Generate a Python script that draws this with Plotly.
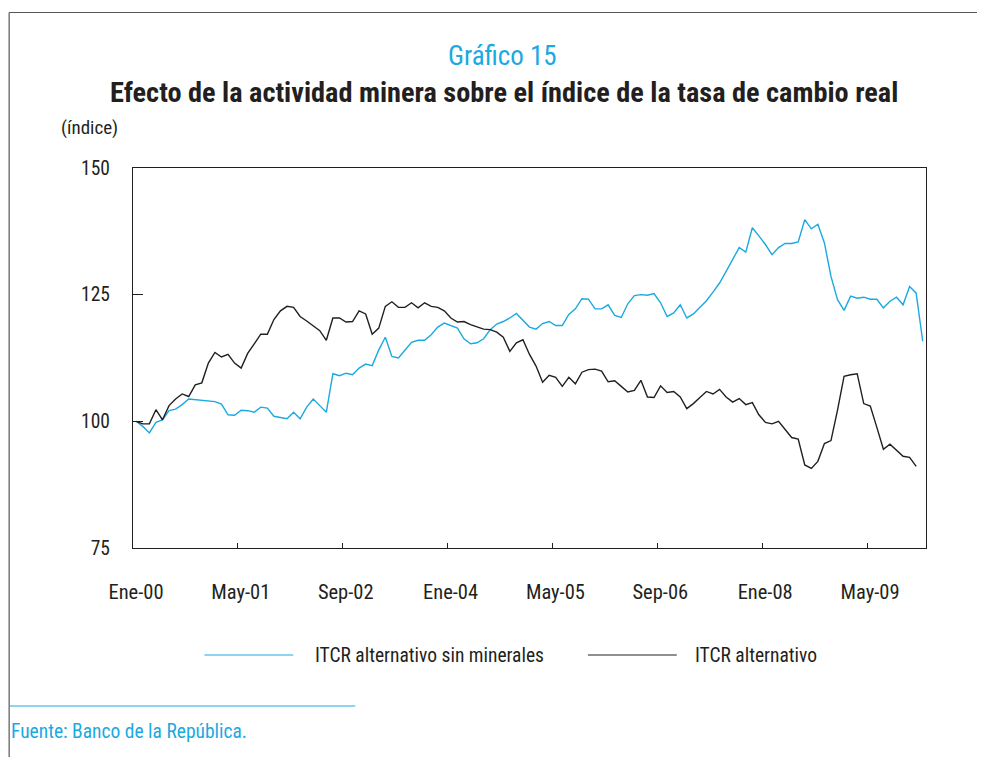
import plotly.graph_objects as go

# ---------------- data ----------------
months = list(range(121))  # Jan-2000 ... Jan-2010 (month index)
tick_labels = ["Ene-00", "May-01", "Sep-02", "Ene-04", "May-05", "Sep-06", "Ene-08", "May-09"]
tick_months = [0, 16, 32, 48, 64, 80, 96, 112]
y_ticks = [75, 100, 125, 150]

itcr_sin_minerales = [
    100.0, 99.0, 97.7, 99.8, 100.3, 102.1, 102.4, 103.3, 104.4, 104.3,
    104.1, 104.1, 103.9, 103.4, 101.3, 101.2, 102.2, 102.1, 101.8, 102.8,
    102.6, 101.0, 100.7, 100.5, 101.8, 100.5, 102.8, 104.4, 103.1, 101.8,
    109.4, 109.0, 109.5, 109.2, 110.5, 111.3, 111.0, 114.1, 116.6, 112.8,
    112.5, 114.1, 115.6, 116.0, 116.0, 117.1, 118.6, 119.4, 118.9, 118.4,
    116.3, 115.3, 115.5, 116.3, 118.1, 119.2, 119.7, 120.4, 121.3, 120.0,
    118.6, 118.2, 119.3, 119.7, 118.9, 118.9, 121.1, 122.2, 124.2, 124.1,
    122.2, 122.2, 123.0, 120.9, 120.5, 123.2, 124.8, 125.0, 124.9, 125.2,
    123.4, 120.7, 121.4, 123.0, 120.4, 121.2, 122.4, 123.8, 125.5, 127.3,
    129.6, 132.0, 134.3, 133.4, 138.2, 136.6, 134.9, 132.9, 134.3, 135.1,
    135.1, 135.4, 139.8, 138.0, 138.9, 135.2, 128.6, 124.0, 121.9, 124.7,
    124.3, 124.5, 124.1, 124.1, 122.4, 123.7, 124.5, 123.0, 126.6, 125.3,
    115.8,
]

itcr_alternativo = [
    100.0, 99.5, 99.5, 102.3, 100.3, 103.1, 104.4, 105.4, 104.9, 107.2,
    107.6, 111.5, 113.6, 112.7, 113.2, 111.5, 110.5, 113.4, 115.3, 117.2,
    117.2, 120.1, 121.8, 122.7, 122.5, 120.7, 119.8, 118.9, 117.9, 116.0,
    120.4, 120.4, 119.6, 119.7, 121.8, 121.2, 117.2, 118.4, 122.7, 123.6,
    122.5, 122.5, 123.4, 122.4, 123.4, 122.7, 122.5, 121.8, 120.4, 119.6,
    119.7, 119.1, 118.6, 118.2, 118.1, 117.6, 116.6, 113.8, 115.5, 116.1,
    113.2, 110.9, 107.7, 109.1, 108.7, 106.9, 108.7, 107.4, 109.7, 110.2,
    110.3, 109.9, 107.8, 108.0, 106.9, 105.8, 106.1, 108.1, 104.8, 104.7,
    107.0, 105.7, 105.9, 104.8, 102.5, 103.5, 104.7, 105.9, 105.4, 106.3,
    104.8, 103.8, 104.5, 103.3, 103.7, 101.3, 99.8, 99.5, 100.0, 98.5,
    96.8, 96.5, 91.4, 90.7, 92.1, 95.6, 96.2, 102.2, 108.9, 109.2,
    109.4, 103.5, 103.0, 98.8, 94.5, 95.5, 94.2, 93.1, 92.9, 91.1,
]

CYAN = "#1BA9E1"
BLACK = "#231F20"
FONT = "Liberation Sans Narrow, Arial Narrow, Roboto Condensed, DejaVu Sans Condensed, Liberation Sans, sans-serif"

# figure size (page has an 8px body margin)
W, H = 977, 749
OFF = 8  # page offset of the figure

# plot area in page pixels, converted to figure pixels
L, R, T, B = 132.5 - OFF, 926.5 - OFF, 168.0 - OFF, 548.0 - OFF


def px(x):
    """page x pixel -> paper fraction"""
    return (x - OFF - L) / (R - L)


def py(y):
    """page y pixel -> paper fraction"""
    return (B - (y - OFF)) / (B - T)


fig = go.Figure()
fig.add_trace(go.Scatter(x=months[:len(itcr_sin_minerales)], y=itcr_sin_minerales,
                         mode="lines", line=dict(color=CYAN, width=1.4),
                         name="ITCR alternativo sin minerales", showlegend=False))
fig.add_trace(go.Scatter(x=months[:len(itcr_alternativo)], y=itcr_alternativo,
                         mode="lines", line=dict(color=BLACK, width=1.4),
                         name="ITCR alternativo", showlegend=False))

shapes = [
    # page frame (top and left)
    dict(type="line", xref="paper", yref="paper", x0=px(8.5), x1=px(990), y0=py(12.5), y1=py(12.5),
         line=dict(color="#555555", width=1.2)),
    dict(type="line", xref="paper", yref="paper", x0=px(8.5), x1=px(8.5), y0=py(12.5), y1=py(770),
         line=dict(color="#555555", width=1.2)),
    # footer rule
    dict(type="line", xref="paper", yref="paper", x0=px(8.5), x1=px(355), y0=py(706), y1=py(706),
         line=dict(color=CYAN, width=1.2)),
    # legend samples
    dict(type="line", xref="paper", yref="paper", x0=px(204), x1=px(293), y0=py(655), y1=py(655),
         line=dict(color=CYAN, width=1.2)),
    dict(type="line", xref="paper", yref="paper", x0=px(588), x1=px(677), y0=py(655), y1=py(655),
         line=dict(color=BLACK, width=1.2)),
]

annotations = [
    dict(text="Gráfico 15", x=px(502), y=py(56), xref="paper", yref="paper",
         showarrow=False, xanchor="center", yanchor="middle",
         font=dict(family=FONT, size=27, color=CYAN)),
    dict(text="<b>Efecto de la actividad minera sobre el índice de la tasa de cambio real</b>",
         x=px(503.5), y=py(92), xref="paper", yref="paper",
         showarrow=False, xanchor="center", yanchor="middle",
         font=dict(family=FONT, size=28.3, color=BLACK)),
    dict(text="(índice)", x=px(58), y=py(128), xref="paper", yref="paper",
         showarrow=False, xanchor="left", yanchor="middle",
         font=dict(family=FONT, size=19, color=BLACK)),
    dict(text="ITCR alternativo sin minerales", x=px(313), y=py(655), xref="paper", yref="paper",
         showarrow=False, xanchor="left", yanchor="middle",
         font=dict(family=FONT, size=19.5, color=BLACK)),
    dict(text="ITCR alternativo", x=px(693), y=py(655), xref="paper", yref="paper",
         showarrow=False, xanchor="left", yanchor="middle",
         font=dict(family=FONT, size=19.5, color=BLACK)),
    dict(text="Fuente: Banco de la República.", x=px(8.5), y=py(731), xref="paper", yref="paper",
         showarrow=False, xanchor="left", yanchor="middle",
         font=dict(family=FONT, size=19.5, color=CYAN)),
]

fig.update_layout(
    width=W, height=H,
    margin=dict(l=L, r=W - R, t=T, b=H - B, pad=0),
    paper_bgcolor="white", plot_bgcolor="white",
    showlegend=False,
    shapes=shapes, annotations=annotations,
    font=dict(family=FONT, size=19, color=BLACK),
)

fig.update_xaxes(
    range=[-0.5, 120.5],
    tickmode="array",
    tickvals=[m - 0.5 for m in tick_months],
    ticktext=tick_labels,
    ticklabelshift=3,
    ticks="inside", ticklen=5, tickwidth=1, tickcolor=BLACK,
    ticklabelstandoff=25,
    showgrid=False, zeroline=False,
    showline=True, linecolor=BLACK, linewidth=1.2, mirror=True,
    tickfont=dict(family=FONT, size=20.5, color=BLACK),
)
fig.update_yaxes(
    range=[75, 150],
    tickmode="array",
    tickvals=y_ticks,
    ticks="inside", ticklen=10, tickwidth=1, tickcolor=BLACK,
    ticklabelstandoff=18,
    showgrid=False, zeroline=False,
    showline=True, linecolor=BLACK, linewidth=1.2, mirror=True,
    tickfont=dict(family=FONT, size=19.5, color=BLACK),
)

fig.write_html("out.html")
